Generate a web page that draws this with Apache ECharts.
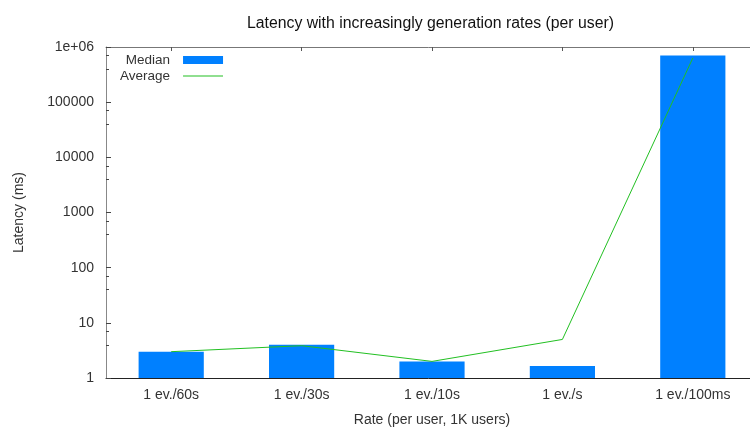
<!DOCTYPE html>
<html>
<head>
<meta charset="utf-8">
<script src="https://cdn.jsdelivr.net/npm/echarts@6/dist/echarts.min.js"></script>
<style>
  html, body { margin: 0; padding: 0; background: #fff; }
  #chart { width: 750px; height: 428px; }
</style>
</head>
<body>
<div id="chart"></div>
<script>
// Rate buckets (one event per user per period, 1K users)
const categories = ['1 ev./60s', '1 ev./30s', '1 ev./10s', '1 ev./s', '1 ev./100ms'];
// Latency in ms
const medianLatency = [3, 4, 2, 1.65, 700000];
const averageLatency = [3, 3.85, 2, 5, 630000];
// Log-axis tick labels by decade
const yTickValues = [1, 10, 100, 1000, 10000, 100000, 1000000];
const yTickLabels = ['1', '10', '100', '1000', '10000', '100000', '1e+06'];

const FONT = '"Liberation Sans", Arial, sans-serif';
const TEXT = '#333';
const LABEL_SIZE = 14;

const chart = echarts.init(document.getElementById('chart'), null, { renderer: 'canvas' });

chart.setOption({
  animation: false,
  backgroundColor: '#fff',
  textStyle: { fontFamily: FONT, color: TEXT },
  title: {
    text: 'Latency with increasingly generation rates (per user)',
    left: 425.5,
    top: 11,
    textAlign: 'center',
    textStyle: { fontFamily: FONT, fontSize: 15.8, fontWeight: 'normal', color: '#111' }
  },
  legend: {
    orient: 'vertical',
    align: 'right',
    left: 115,
    top: 48,
    itemGap: 2,
    itemWidth: 40,
    itemHeight: 8,
    textStyle: { fontFamily: FONT, fontSize: 13.5, color: TEXT, padding: [0, 8, 0, 0] },
    data: [
      { name: 'Median', icon: 'rect' },
      { name: 'Average', icon: 'path://M0,0H40V1H0Z' }
    ]
  },
  grid: { left: 106, right: -8, top: 47, bottom: 50, containLabel: false, outerBoundsMode: 'none' },
  xAxis: [
    {
      type: 'category',
      data: categories,
      position: 'bottom',
      boundaryGap: true,
      name: 'Rate (per user, 1K users)',
      nameLocation: 'middle',
      nameGap: 35,
      nameTextStyle: { fontFamily: FONT, fontSize: LABEL_SIZE, color: TEXT },
      axisLine: { lineStyle: { color: '#222', width: 1 } },
      axisTick: { show: true, inside: true, alignWithLabel: true, length: 4, lineStyle: { color: '#222' } },
      axisLabel: { fontFamily: FONT, fontSize: LABEL_SIZE, color: TEXT, margin: 10 },
      splitLine: { show: false }
    },
    {
      type: 'category',
      data: categories,
      position: 'top',
      boundaryGap: true,
      axisLine: { lineStyle: { color: '#777', width: 1 } },
      axisTick: { show: true, inside: true, alignWithLabel: true, length: 4, lineStyle: { color: '#555' } },
      axisLabel: { show: false },
      splitLine: { show: false }
    }
  ],
  yAxis: {
    type: 'log',
    logBase: 10,
    min: 1,
    max: 1000000,
    name: 'Latency (ms)',
    nameLocation: 'middle',
    nameGap: 80,
    nameRotate: 90,
    nameTextStyle: { fontFamily: FONT, fontSize: LABEL_SIZE, color: TEXT },
    axisLine: { show: true, lineStyle: { color: '#888', width: 1 } },
    axisTick: { show: true, inside: true, length: 5, lineStyle: { color: '#444' } },
    minorTick: { show: true, splitNumber: 3, length: 3, lineStyle: { color: '#444' } },
    axisLabel: {
      fontFamily: FONT,
      fontSize: LABEL_SIZE,
      color: TEXT,
      margin: 12,
      formatter: function (v) {
        const i = yTickValues.indexOf(Math.round(v));
        return i >= 0 ? yTickLabels[i] : '';
      }
    },
    splitLine: { show: false },
    minorSplitLine: { show: false }
  },
  series: [
    {
      name: 'Median',
      type: 'bar',
      xAxisIndex: 0,
      data: medianLatency,
      barWidth: '50%',
      itemStyle: { color: '#0080ff' }
    },
    {
      name: 'Average',
      type: 'line',
      xAxisIndex: 0,
      data: averageLatency,
      symbol: 'none',
      lineStyle: { color: '#22c022', width: 1 },
      itemStyle: { color: '#22c022' },
      z: 3
    }
  ]
});
</script>
</body>
</html>
